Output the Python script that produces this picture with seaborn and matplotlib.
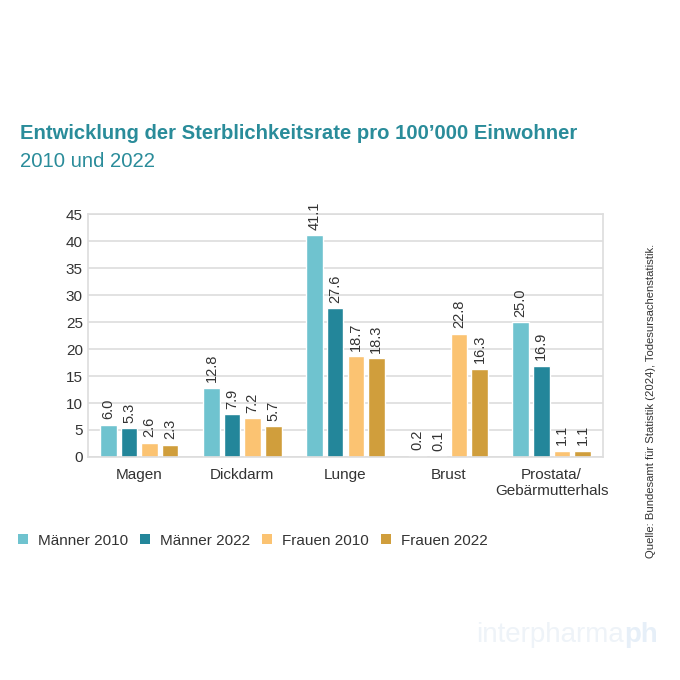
import pandas as pd
import numpy as np
import matplotlib.pyplot as plt
import seaborn as sns
from matplotlib.patches import Patch

# data
categories = ['Magen', 'Dickdarm', 'Lunge', 'Brust', 'Prostata/\nGebärmutterhals']
groups = ['Männer 2010', 'Männer 2022', 'Frauen 2010', 'Frauen 2022']
maenner_2010 = [6.0, 12.8, 41.1, 0.2, 25.0]
maenner_2022 = [5.3, 7.9, 27.6, 0.1, 16.9]
frauen_2010 = [2.6, 7.2, 18.7, 22.8, 1.1]
frauen_2022 = [2.3, 5.7, 18.3, 16.3, 1.1]
colors = ['#6FC3CF', '#23869A', '#FBC372', '#D09E3C']

rows = []
for g, vals in zip(groups, [maenner_2010, maenner_2022, frauen_2010, frauen_2022]):
    for c, v in zip(categories, vals):
        rows.append({'Kategorie': c, 'Gruppe': g, 'Wert': v})
df = pd.DataFrame(rows)

sns.set_style('white')
plt.rcParams['font.family'] = ['Liberation Sans', 'DejaVu Sans']

fig = plt.figure(figsize=(6.8, 6.8), dpi=100)
ax = fig.add_axes([0.129, 0.328, 0.758, 0.357])

sns.barplot(data=df, x='Kategorie', y='Wert', hue='Gruppe',
            order=categories, hue_order=groups, palette=colors,
            saturation=1, width=0.8, gap=0.2, ax=ax, legend=False)

for cont in ax.containers:
    ax.bar_label(cont, fmt='%.1f', rotation=90, padding=4,
                 fontsize=10.5, color='#333333')

ax.set_ylim(0, 45)
ax.set_yticks(range(0, 46, 5))
ax.set_xlabel('')
ax.set_ylabel('')
ax.grid(axis='y', color='#dddddd', linewidth=1.2)
ax.set_axisbelow(True)
for s in ax.spines.values():
    s.set_color('#dddddd')
    s.set_linewidth(1.2)
ax.tick_params(length=0, labelsize=11, colors='#333333')
ax.tick_params(axis='x', pad=8)

fig.text(0.03, 0.803, 'Entwicklung der Sterblichkeitsrate pro 100’000 Einwohner',
         fontsize=14.6, fontweight='bold', color='#2A8C9A', va='center')
fig.text(0.03, 0.763, '2010 und 2022', fontsize=14.6, color='#2A8C9A', va='center')

handles = [Patch(facecolor=c, edgecolor='none') for c in colors]
fig.legend(handles, groups, loc='center left', bbox_to_anchor=(0.026, 0.205),
           ncol=4, frameon=False, fontsize=11, handlelength=0.65, handleheight=0.65,
           handletextpad=0.65, columnspacing=0.8, borderpad=0, borderaxespad=0,
           labelcolor='#333333')

fig.text(0.957, 0.41, 'Quelle: Bundesamt für Statistik (2024), Todesursachenstatistik.',
         rotation=90, fontsize=8.1, color='#333333', ha='center', va='center')

fig.text(0.918, 0.066, 'interpharma', fontsize=20, color='#eef3f8', ha='right',
         va='center', fontweight='light')
fig.text(0.918, 0.066, 'ph', fontsize=20, color='#e6eff8', ha='left',
         va='center', fontweight='bold')

fig.savefig('out.png', dpi=100, facecolor='white')
